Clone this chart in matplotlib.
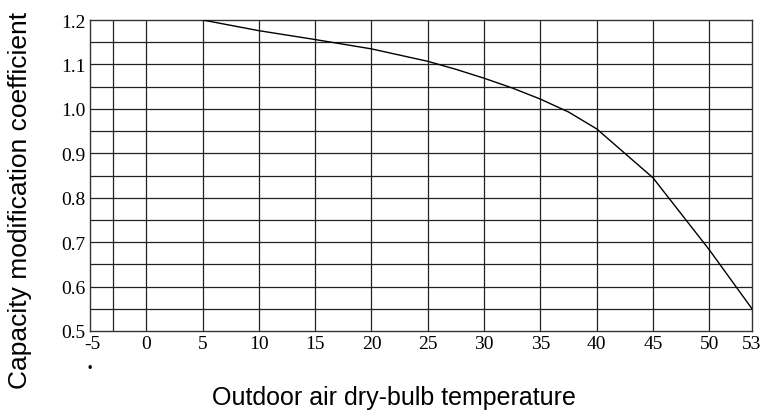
import numpy as np
import matplotlib
matplotlib.use("Agg")
import matplotlib.pyplot as plt
import matplotlib.transforms as mtransforms

# curve
temp = [5, 10, 15, 20, 25, 27.5, 30, 32.5, 35, 37.5, 40, 42.5, 45, 47.5, 50, 53]
coef = [1.2, 1.176, 1.156, 1.135, 1.107, 1.089, 1.069, 1.047, 1.022, 0.993,
        0.955, 0.90, 0.845, 0.764, 0.683, 0.55]

x_ticks = [-5, 0, 5, 10, 15, 20, 25, 30, 35, 40, 45, 50, 53]
x_grid = [-3, 0, 5, 10, 15, 20, 25, 30, 35, 40, 45, 50]
y_ticks = [0.5, 0.6, 0.7, 0.8, 0.9, 1.0, 1.1, 1.2]
y_grid = [0.55, 0.6, 0.65, 0.7, 0.75, 0.8, 0.85, 0.9, 0.95, 1.0, 1.05, 1.1, 1.15]

# the original axis stretches the last 50..53 segment a bit
def fwd(x):
    return np.interp(x, [-5, 50, 53], [-5, 50, 53.8])

def inv(x):
    return np.interp(x, [-5, 50, 53.8], [-5, 50, 53])

fig = plt.figure(figsize=(7.74, 4.14), dpi=100)
ax = fig.add_axes([90 / 774, 1 - 332 / 414, (752 - 90) / 774, (332 - 21) / 414])
ax.set_xscale('function', functions=(fwd, inv))
ax.set_xlim(-5, 53)
ax.set_ylim(0.5, 1.2)

for g in x_grid:
    ax.axvline(g, color='#222222', lw=0.9, zorder=1)
for g in y_grid:
    ax.axhline(g, color='#222222', lw=0.9, zorder=1)

ax.plot(temp, coef, color='black', lw=1.0, zorder=3)

serif = ['Liberation Serif', 'DejaVu Serif']
ax.set_xticks(x_ticks)
ax.set_xticklabels([str(t) for t in x_ticks], family=serif, fontsize=14)
ax.set_yticks(y_ticks)
ax.set_yticklabels([f"{t:.1f}" for t in y_ticks], family=serif, fontsize=14)
ax.tick_params(length=0)
ax.tick_params(axis='x', pad=3)
ax.tick_params(axis='y', pad=3)
# "-5" sits a touch right of the corner in the original
lbl = ax.get_xticklabels()[0]
lbl.set_transform(lbl.get_transform() + mtransforms.ScaledTranslation(0.02, 0, fig.dpi_scale_trans))

for s in ax.spines.values():
    s.set_color('#333333')
    s.set_linewidth(1.0)

sans = ['Liberation Sans', 'DejaVu Sans']
fig.text(20 / 774, 1 - 200 / 414, "Capacity modification coefficient", rotation=90,
         ha='center', va='center', family=sans, fontsize=19)
fig.text(394 / 774, 1 - 398 / 414, "Outdoor air dry-bulb temperature",
         ha='center', va='center', family=sans, fontsize=18)
fig.text(90 / 774, 1 - 369 / 414, "\u2022", ha='center', va='center',
         family=sans, fontsize=9)

fig.savefig("out.png", dpi=100)
